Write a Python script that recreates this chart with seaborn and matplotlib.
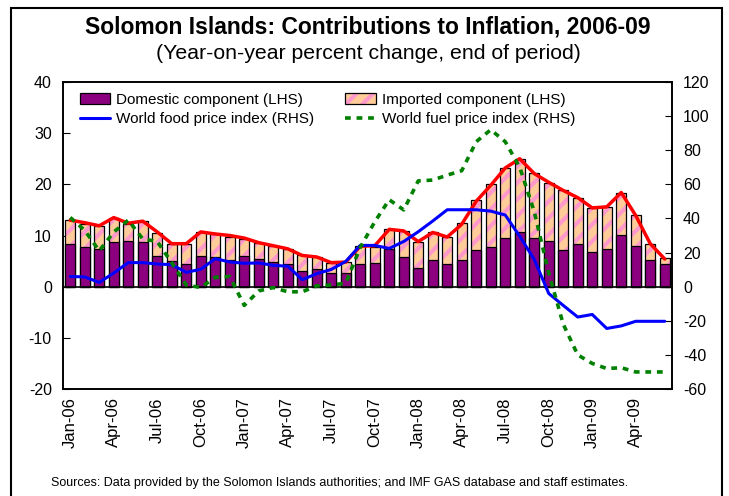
import numpy as np
import pandas as pd
import matplotlib
matplotlib.use('Agg')
import matplotlib.pyplot as plt
from matplotlib.patches import Patch, Rectangle
from matplotlib.lines import Line2D
from matplotlib.legend_handler import HandlerTuple
import seaborn as sns

# monthly, Jan-06 .. Jun-09
months = pd.date_range('2006-01-01', periods=42, freq='MS').strftime('%b-%y').tolist()

# contributions to y/y inflation (LHS, percent)
domestic = [8.3, 7.7, 7.4, 8.8, 9.0, 8.8, 6.0, 5.0, 4.5, 5.9,
            5.8, 5.2, 6.0, 5.4, 4.8, 4.5, 3.0, 3.4, 2.6, 2.7,
            4.5, 4.7, 7.4, 5.8, 3.7, 5.3, 4.5, 5.3, 7.2, 7.7,
            9.6, 10.6, 9.6, 9.0, 7.1, 8.3, 6.8, 7.3, 10.1, 7.9,
            5.3, 4.5]
imported = [4.7, 4.6, 4.5, 4.7, 3.3, 4.0, 4.4, 3.4, 3.9, 4.8,
            4.4, 4.6, 3.3, 3.1, 3.2, 2.8, 3.1, 2.4, 2.1, 2.1,
            3.4, 3.1, 3.8, 5.0, 5.1, 5.4, 5.3, 7.2, 9.8, 12.3,
            13.6, 14.4, 12.7, 11.3, 11.7, 9.0, 8.5, 8.3, 8.3, 6.2,
            3.1, 1.1]
headline = [13.0, 12.5, 11.9, 13.5, 12.4, 12.8, 10.7, 8.4, 8.4, 10.7,
            10.3, 10.0, 9.5, 8.6, 8.0, 7.4, 6.1, 5.8, 4.7, 4.8,
            7.9, 8.0, 11.2, 10.9, 8.8, 10.6, 9.7, 12.2, 16.7, 19.8,
            23.2, 25.0, 22.1, 20.4, 18.8, 17.4, 15.4, 15.6, 18.4, 13.9,
            8.4, 5.4]

# world price indices (RHS, y/y percent)
food = [6.0, 5.7, 2.5, 8.0, 14.1, 14.1, 13.3, 12.9, 8.4, 10.2,
        16.4, 14.5, 13.7, 13.9, 12.5, 12.0, 4.1, 7.6, 10.1, 14.8,
        24.2, 24.2, 22.4, 26.5, 32.2, 38.5, 45.1, 45.1, 45.1, 44.3,
        42.0, 29.5, 16.0, -4.0, -11.0, -17.8, -16.3, -24.5, -23.0, -20.3,
        -20.3, -20.3]
fuel = [40.6, 33.0, 21.0, 32.0, 39.0, 28.0, 26.5, 14.0, 1.0, -0.5,
        5.5, 6.0, -11.0, -2.5, -0.5, -3.0, -3.0, 0.5, 1.0, 2.0,
        23.0, 38.0, 51.0, 45.0, 62.0, 62.5, 65.4, 68.0, 85.0, 92.0,
        85.0, 70.0, 44.0, 8.0, -22.0, -40.0, -45.0, -48.0, -47.5, -50.0,
        -50.0, -50.0]

PURPLE = '#8C0080'
PEACH = '#FFCC99'
PINK = '#FF99CC'
RED = '#FF0000'
BLUE = '#0000FF'
GREEN = '#008000'

sns.set_style('white')
plt.rcParams['font.family'] = ['Liberation Sans', 'DejaVu Sans']
plt.rcParams['hatch.linewidth'] = 3.0
plt.rcParams['axes.unicode_minus'] = False
plt.rcParams['text.color'] = 'black'
plt.rcParams['xtick.color'] = 'black'
plt.rcParams['ytick.color'] = 'black'

total = np.array(domestic) + np.array(imported)
pos = np.arange(len(months))

fig = plt.figure(figsize=(7.29, 4.96), dpi=100)
ax = fig.add_axes([0.0864, 0.2157, 0.8354, 0.619])

# stacked bars: total (hatched imported on top), outline, then domestic
sns.barplot(x=months, y=total, color=PEACH, saturation=1, width=0.7,
            hatch='//', edgecolor=PINK, linewidth=0, errorbar=None,
            ax=ax, zorder=2)
sns.barplot(x=months, y=total, fill=False, color='black', width=0.7,
            linewidth=0.9, errorbar=None, ax=ax, zorder=3)
sns.barplot(x=months, y=domestic, color=PURPLE, saturation=1, width=0.7,
            edgecolor='black', linewidth=0.9, errorbar=None, ax=ax, zorder=4)
ax.axhline(0, color='black', lw=1.2, zorder=5)
sns.lineplot(x=pos, y=headline, color=RED, lw=2.5, ax=ax, zorder=6)

ax2 = ax.twinx()
sns.lineplot(x=pos, y=food, color=BLUE, lw=2.2, ax=ax2)
sns.lineplot(x=pos, y=fuel, color=GREEN, lw=2.6, linestyle=(0, (1.6, 1.6)), ax=ax2)

ax.set_xlim(-0.5, len(months) - 0.5)
ax.set_ylim(-20, 40)
ax2.set_ylim(-60, 120)
ax.set_yticks(range(-20, 41, 10))
ax2.set_yticks(range(-60, 121, 20))
ax.set_xticks(pos[::3], months[::3], rotation=90)
for a in (ax, ax2):
    a.set_xlabel('')
    a.set_ylabel('')
    for s in a.spines.values():
        s.set_color('black')
        s.set_linewidth(1.2)
ax.tick_params(axis='x', length=0, pad=6, labelsize=12)
ax.tick_params(axis='y', direction='in', length=5, pad=8, labelsize=11.5, left=True)
ax2.tick_params(axis='y', direction='in', length=5, pad=8, labelsize=11.5, right=True)

h_dom = Patch(facecolor=PURPLE, edgecolor='black', lw=0.9)
h_imp = (Patch(facecolor=PEACH, edgecolor=PINK, hatch='//', lw=0),
         Patch(facecolor='none', edgecolor='black', lw=0.9))
h_food = Line2D([], [], color=BLUE, lw=2.2)
h_fuel = Line2D([], [], color=GREEN, lw=2.6, linestyle=(0, (1.6, 1.6)))
ax2.legend([h_dom, h_food, h_imp, h_fuel],
           ['Domestic component (LHS)', 'World food price index (RHS)',
            'Imported component (LHS)', 'World fuel price index (RHS)'],
           ncol=2, loc='upper left', bbox_to_anchor=(0.005, 1.01), frameon=False,
           fontsize=11, handlelength=2.0, handletextpad=0.4, columnspacing=2.0,
           labelspacing=0.35, handler_map={tuple: HandlerTuple(ndivide=1)})

fig.text(0.505, 0.946, 'Solomon Islands: Contributions to Inflation, 2006-09',
         ha='center', va='center', fontsize=16.5, fontweight='bold')
fig.text(0.505, 0.893, '(Year-on-year percent change, end of period)',
         ha='center', va='center', fontsize=15.3)
fig.text(0.07, 0.026, 'Sources: Data provided by the Solomon Islands authorities; '
         'and IMF GAS database and staff estimates.', fontsize=9, va='center')

fig.patches.append(Rectangle((0.015, -0.01), 0.975, 0.994, transform=fig.transFigure,
                             fill=False, lw=1.5, edgecolor='black'))

fig.savefig('out.png', dpi=100)
